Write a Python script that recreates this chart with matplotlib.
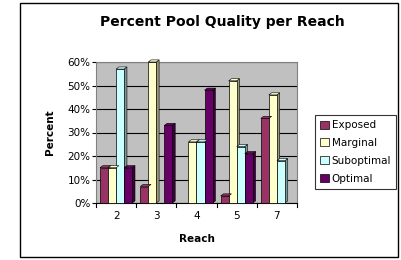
import matplotlib.pyplot as plt
from matplotlib.patches import Rectangle, Polygon
import matplotlib.colors as mcolors

# 各リーチのプール品質割合（%）
reaches = ['2', '3', '4', '5', '7']
exposed = [15, 7, 0, 3, 36]
marginal = [15, 60, 26, 52, 46]
suboptimal = [57, 0, 26, 24, 18]
optimal = [15, 33, 48, 21, 0]

series = [('Exposed', exposed, '#993366'),
          ('Marginal', marginal, '#FFFFCC'),
          ('Suboptimal', suboptimal, '#CCFFFF'),
          ('Optimal', optimal, '#660066')]

fig = plt.figure(figsize=(4.02, 2.6), dpi=100)
fig.patches.append(Rectangle((20/402, 3/260), 378/402, 254/260, transform=fig.transFigure,
                             fill=False, edgecolor='black', linewidth=1))

ax = fig.add_axes([96/402, 1-203/260, 201/402, 141/260])
ax.set_facecolor('#C0C0C0')

w = 0.2
dx, dy = 0.07, 0.9
for i, (name, vals, col) in enumerate(series):
    xs = [k - 0.3 + i*w for k in range(len(reaches))]
    bars = ax.bar(xs, vals, width=w, color=col, edgecolor='black', linewidth=0.5, label=name, zorder=3)
    for b in bars:
        b.set_clip_on(False)
    dark = [c*0.6 for c in mcolors.to_rgb(col)]
    for x, v in zip(xs, vals):
        if v <= 0:
            continue
        r = x + w/2
        l = x - w/2
        # 側面と上面で立体感を出す
        ax.add_patch(Polygon([(r, 0), (r+dx, dy), (r+dx, v+dy), (r, v)], closed=True, clip_on=False,
                             facecolor=dark, edgecolor='black', linewidth=0.4, zorder=2.9))
        ax.add_patch(Polygon([(l, v), (l+dx, v+dy), (r+dx, v+dy), (r, v)], closed=True, clip_on=False,
                             facecolor=col, edgecolor='black', linewidth=0.4, zorder=3.1))

ax.set_xlim(-0.5, len(reaches)-0.5)
ax.set_ylim(0, 60)
ax.set_yticks(range(0, 61, 10))
ax.set_yticklabels([f'{v}%' for v in range(0, 61, 10)], fontsize=7.5)
ax.yaxis.grid(True, color='black', linewidth=0.8, zorder=0)
ax.set_axisbelow(True)
ax.set_xticks(range(len(reaches)))
ax.set_xticklabels(reaches, fontsize=7.5)
ax.tick_params(axis='x', length=0, pad=6)
ax.tick_params(axis='y', length=3, pad=1)
for k in range(len(reaches)+1):
    ax.plot([k-0.5, k-0.5], [0, -1.5], color='black', linewidth=0.8, clip_on=False)
for s in ['top', 'right']:
    ax.spines[s].set_color('#808080')
ax.spines['left'].set_color('#808080')
ax.spines['bottom'].set_color('black')

ax.set_ylabel('Percent', fontsize=7.5, fontweight='bold', labelpad=9)
ax.set_xlabel('Reach', fontsize=7.5, fontweight='bold', labelpad=9)
fig.text(222/402, 1-22/260, 'Percent Pool Quality per Reach', ha='center', va='center',
         fontsize=10, fontweight='bold')

leg = ax.legend(loc='center left', bbox_to_anchor=(315/402, 1-152/260), bbox_transform=fig.transFigure,
                fontsize=7.5, frameon=True, fancybox=False, edgecolor='black', borderpad=0.5,
                handlelength=0.8, handleheight=0.8, handletextpad=0.3, labelspacing=0.75,
                borderaxespad=0)
leg.get_frame().set_linewidth(0.8)

plt.savefig('out.png', dpi=100)
